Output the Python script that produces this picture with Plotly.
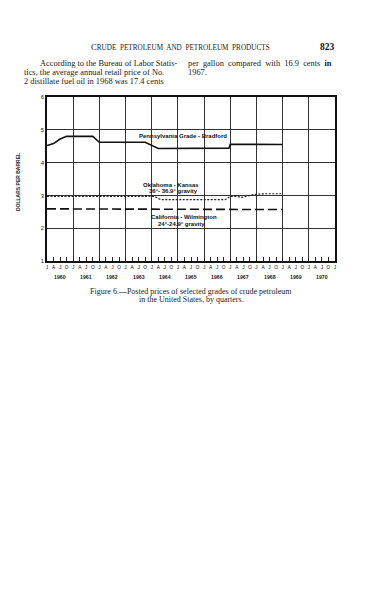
import plotly.graph_objects as go

# ---------------- data ----------------
penn_x = [1960.0, 1960.25, 1960.5, 1960.75, 1961.75, 1962.0, 1963.75, 1964.25, 1966.95, 1967.0, 1969.0]
penn_y = [4.52, 4.58, 4.72, 4.80, 4.80, 4.62, 4.62, 4.43, 4.44, 4.56, 4.55]

okla_x = [1960.0, 1964.1, 1964.35, 1966.8, 1967.0, 1967.25, 1967.45, 1967.65, 1967.9, 1968.3, 1969.0]
okla_y = [2.97, 2.97, 2.87, 2.87, 2.97, 2.97, 2.94, 2.97, 3.03, 3.05, 3.05]

cal_x = [1960.0, 1962.0, 1964.0, 1966.0, 1968.0, 1969.0]
cal_y = [2.59, 2.58, 2.58, 2.57, 2.57, 2.57]

quarter_vals = [1960 + q * 0.25 for q in range(45)]
quarter_text = ["J", "A", "J", "O"] * 11 + ["J"]
years = [1960, 1961, 1962, 1963, 1964, 1965, 1966, 1967, 1968, 1969, 1970]
y_ticks = [1, 2, 3, 4, 5, 6]

# ---------------- geometry (pixels) ----------------
W, H = 374, 599
L, R, T, B = 39, 327, 89, 253


def px(p):
    return (p - L) / (R - L)


def py(p):
    return (B - p) / (B - T)


fig = go.Figure()
fig.add_trace(go.Scatter(x=penn_x, y=penn_y, mode="lines",
                         line=dict(color="#111", width=1.6), hoverinfo="skip"))
fig.add_trace(go.Scatter(x=okla_x, y=okla_y, mode="lines",
                         line=dict(color="#222", width=1.2, dash="2px,1.5px"), hoverinfo="skip"))
fig.add_trace(go.Scatter(x=cal_x, y=cal_y, mode="lines",
                         line=dict(color="#111", width=1.6, dash="9px,4px"), hoverinfo="skip"))

sans = "Liberation Sans, Arial"
lab_font = dict(family=sans, size=6.0, color="#111")
ann = []
ann.append(dict(x=1965.2, y=4.81, xref="x", yref="y", text="<b>Pennsylvania Grade - Bradford</b>",
                showarrow=False, font=lab_font))
ann.append(dict(x=1964.75, y=3.33, xref="x", yref="y", text="<b>Oklahoma - Kansas</b>",
                showarrow=False, font=lab_font))
ann.append(dict(x=1964.85, y=3.12, xref="x", yref="y", text="<b>36°- 36.9° gravity</b>",
                showarrow=False, font=lab_font))
ann.append(dict(x=1965.25, y=2.35, xref="x", yref="y", text="<b>California - Wilmington</b>",
                showarrow=False, font=lab_font))
ann.append(dict(x=1965.15, y=2.12, xref="x", yref="y", text="<b>24°-24.9° gravity</b>",
                showarrow=False, font=lab_font))

for yr in years:
    ann.append(dict(x=yr + 0.5, y=py(269), xref="x", yref="paper", xanchor="center", yanchor="middle",
                    text="<b>%d</b>" % yr,
                    showarrow=False, font=dict(family=sans, size=5.2, color="#222")))

ann.append(dict(x=px(10), y=py(174), xref="paper", yref="paper", xanchor="center", yanchor="middle",
                text="<b>DOLLARS PER BARREL</b>",
                textangle=-90, showarrow=False,
                font=dict(family=sans, size=5.0, color="#222")))

serif = "Liberation Serif, Times New Roman, serif"
ann.append(dict(x=px(172), y=py(32), xref="paper", yref="paper", xanchor="center",
                text="C<span style='font-size:7.2px'>RUDE&nbsp; PETROLEUM&nbsp; AND&nbsp; PETROLEUM&nbsp; PRODUCTS</span>",
                showarrow=False, font=dict(family=serif, size=8.6, color="#222")))
ann.append(dict(x=px(329), y=py(32), xref="paper", yref="paper", xanchor="right", text="<b>823</b>",
                showarrow=False, font=dict(family=serif, size=9.5, color="#111")))

sp = "&nbsp; "
body = [
    (30, 49, "According to the Bureau of Labor Statis-"),
    (14, 58, "tics, the average annual retail price of No."),
    (14, 67, "2 distillate fuel oil in 1968 was 17.4 cents"),
    (178, 49, "per" + sp + "gallon" + sp + "compared" + sp + "with" + sp + "16.9" + sp + "cents" + sp + "<b>in</b>"),
    (178, 58, "1967."),
]
for x0, y0, t in body:
    ann.append(dict(x=px(x0), y=py(y0), xref="paper", yref="paper", xanchor="left", text=t,
                    showarrow=False, font=dict(family=serif, size=8.4, color="#222")))

ann.append(dict(x=px(183), y=py(290), xref="paper", yref="paper", xanchor="center",
                text="Figure 6.—Posted prices of selected grades of crude petroleum",
                showarrow=False, font=dict(family=serif, size=8.0, color="#222")))
ann.append(dict(x=px(183), y=py(298), xref="paper", yref="paper", xanchor="center",
                text="in the United States, by quarters.",
                showarrow=False, font=dict(family=serif, size=8.0, color="#222")))

fig.update_layout(
    width=W, height=H, autosize=False,
    margin=dict(l=L, r=W - R, t=T, b=H - B, pad=0),
    paper_bgcolor="white", plot_bgcolor="white",
    showlegend=False,
    annotations=ann,
    xaxis=dict(range=[1960, 1971], tickvals=quarter_vals, ticktext=quarter_text,
               ticks="inside", ticklen=4, tickwidth=1, tickcolor="#222",
               showgrid=False, zeroline=False,
               showline=True, linecolor="#111", linewidth=2, mirror=True,
               tickfont=dict(family=sans, size=4.8, color="#111"),
               tickangle=0,
               minor=dict(tick0=1960, dtick=1, showgrid=True, gridcolor="#333", gridwidth=0.9, ticks="")),
    yaxis=dict(range=[1, 6], tickvals=y_ticks, ticktext=[str(v) for v in y_ticks],
               ticks="", showgrid=True, gridcolor="#333", gridwidth=0.9, zeroline=False,
               showline=True, linecolor="#111", linewidth=1.6, mirror=True,
               tickfont=dict(family=sans, size=6, color="#222")),
)

fig.write_html("out.html")
